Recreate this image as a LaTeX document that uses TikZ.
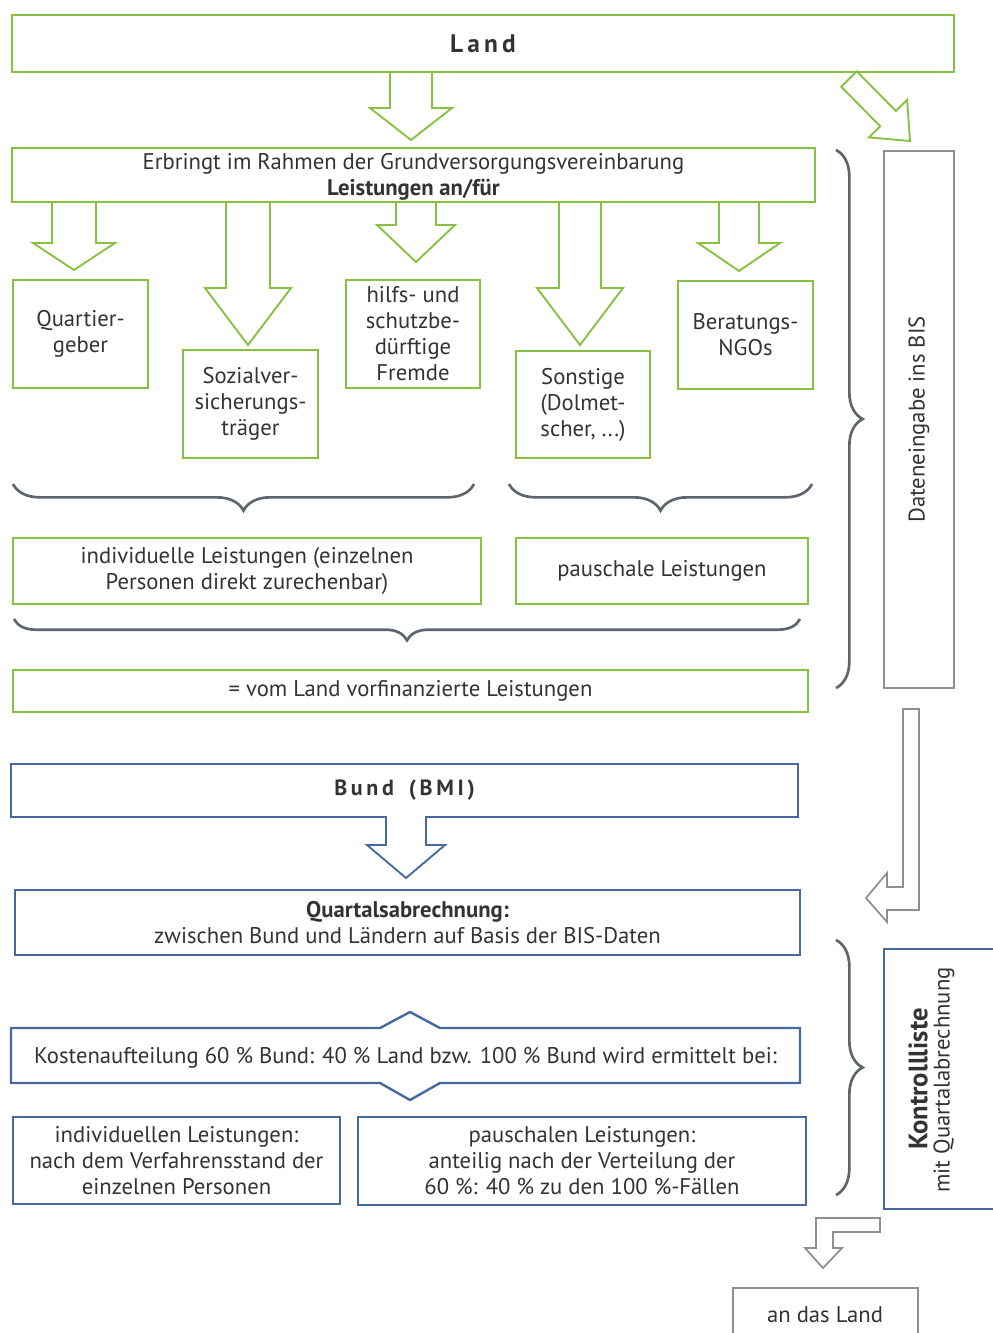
\documentclass[tikz,border=0pt]{standalone}
\usepackage{fontspec}
\setmainfont{PT Sans}
\usetikzlibrary{decorations.pathreplacing}
\definecolor{lgreen}{HTML}{86C240}
\definecolor{lblue}{HTML}{4669A0}
\definecolor{lgrey}{HTML}{8C9096}
\definecolor{bgrey}{HTML}{5F656C}
\definecolor{txt}{HTML}{333333}
\newcommand\dnarrow[7]{%
  \draw[#1, line width=1.4pt, line join=miter] (#2-#6,#3) -- (#2-#6,#4) -- (#2-#7,#4) -- (#2,#5) -- (#2+#7,#4) -- (#2+#6,#4) -- (#2+#6,#3);}
\begin{document}
\begin{tikzpicture}[x=0.75pt,y=-0.75pt,
  every node/.style={text=txt, font=\fontsize{17}{19.5}\selectfont},
  wh/.style 2 args={minimum width=#1*0.75pt, minimum height=#2*0.75pt},
  gbox/.style={draw=lgreen, line width=1.5pt, inner sep=0pt, align=center},
  bbox/.style={draw=lblue, line width=1.8pt, inner sep=0pt, align=center},
  greybox/.style={draw=lgrey, line width=1.3pt, inner sep=0pt, align=center},
  brc/.style={draw=bgrey, line width=2pt, decorate, decoration={brace, amplitude=#1}},
]
\useasboundingbox[fill=white] (0,0) rectangle (992,1333);

% top part
\node[gbox, wh={942}{57}, font=\fontsize{19}{22}\selectfont\bfseries] (land) at (483,43.5) {L\,a\,n\,d};
\node[gbox, wh={803}{54}] (erb) at (413.5,175) {};
\node at (413.5,177) [align=center] {Erbringt im Rahmen der Grundversorgungsvereinbarung\\\textbf{Leistungen an/für}};

\node[gbox, wh={135}{108}] (q) at (80.5,334) {Quartier-\\geber};
\node[gbox, wh={135}{108}] (s) at (250.5,404) {Sozialver-\\sicherungs-\\träger};
\node[gbox, wh={134}{108}] (h) at (413,334) {hilfs- und\\schutzbe-\\dürftige\\Fremde};
\node[gbox, wh={134}{107}] (so) at (583,404.5) {Sonstige\\(Dolmet-\\scher, ...)};
\node[gbox, wh={135}{108}] (b) at (745.5,335) {Beratungs-\\NGOs};

% arrows green
\dnarrow{lgreen}{411}{72}{108}{140}{21}{41}
\dnarrow{lgreen}{74}{202}{243}{270}{22}{41}
\dnarrow{lgreen}{248}{202}{288}{345}{22}{43}
\dnarrow{lgreen}{416}{202}{225}{262}{20}{39}
\dnarrow{lgreen}{580}{202}{288}{345}{21}{43}
\dnarrow{lgreen}{739}{202}{243}{271}{20}{41}

% diagonal arrow
\draw[lgreen, line width=1.4pt, line join=miter]
  (841.2,86.7) -- (880.2,126.3) -- (868.9,137.4) -- (910,141) -- (907.1,99.8) -- (895.8,110.9) -- (856.8,71.3) -- cycle;

% braces
\draw[brc=20pt] (474,484) -- (13,484);
\draw[brc=20pt] (812,484) -- (509,484);

\node[gbox, wh={468}{66}] (ind) at (247,571) {individuelle Leistungen (einzelnen\\Personen direkt zurechenbar)};
\node[gbox, wh={292}{66}] (pau) at (662,571) {pauschale Leistungen};

\draw[brc=16pt] (800,619) -- (14,619);

\node[gbox, wh={795}{42}] (vor) at (410.5,691) {= vom Land vorfinanzierte Leistungen};

% right column top
\draw[brc=20pt] (836,150) -- (836,688);
\node[greybox, wh={70}{537}] (dat) at (919,419.5) {};
\node[rotate=90] at (dat.center) {Dateneingabe ins BIS};

% bent grey arrow
\draw[lgrey, line width=1.3pt, line join=miter]
  (903,709) -- (919,709) -- (919,910) -- (887,910) -- (887,922) -- (866,898) -- (887,873) -- (887,887) -- (903,887) -- cycle;

% blue part
\node[bbox, wh={787}{53}, font=\fontsize{16.5}{19}\selectfont\bfseries] (bund) at (404.5,790.5) {B\,u\,n\,d\, \ (\,B\,M\,I\,)};
\fill[white] (387,815) rectangle (425,819);
\dnarrow{lblue}{406}{817}{845}{878}{20}{39}
\node[bbox, wh={785}{65}] (quart) at (407.5,922.5) {\textbf{Quartalsabrechnung:}\\zwischen Bund und Ländern auf Basis der BIS-Daten};

\node[inner sep=0pt] (kost) at (405.5,1058) {Kostenaufteilung 60 \% Bund: 40 \% Land bzw. 100 \% Bund wird ermittelt bei:};
\draw[lblue, line width=1.8pt, line join=miter]
  (11,1028) -- (380,1028) -- (410,1012) -- (440,1028) -- (800,1028) -- (800,1083) -- (440,1083) -- (410,1100) -- (380,1083) -- (11,1083) -- cycle;

\node[bbox, wh={327}{87}] (ind2) at (176.5,1160.5) {individuellen Leistungen:\\nach dem Verfahrensstand der\\einzelnen Personen};
\node[bbox, wh={448}{88}] (pau2) at (582,1161) {pauschalen Leistungen:\\anteilig nach der Verteilung der\\60 \%: 40 \% zu den 100 \%-Fällen};

\draw[brc=20pt] (836,940) -- (836,1195);

\draw[lblue, line width=1.8pt] (996,949) -- (884,949) -- (884,1209) -- (996,1209);
\node[rotate=90, font=\fontsize{20}{22}\selectfont\bfseries] (kl) at (918,1079) {Kontrollliste};
\node[rotate=90] (mq) at (944,1080) {mit Quartalabrechnung};

% small bent arrow
\draw[lgrey, line width=1.3pt, line join=miter]
  (816,1218) -- (880,1218) -- (880,1232) -- (833,1232) -- (833,1248) -- (842,1248) -- (823,1268) -- (805,1248) -- (816,1248) -- cycle;

\draw[lgrey, line width=1.3pt] (733,1340) -- (733,1288) -- (918,1288) -- (918,1340);
\node (al) at (825,1315) {an das Land};
\end{tikzpicture}
\end{document}
